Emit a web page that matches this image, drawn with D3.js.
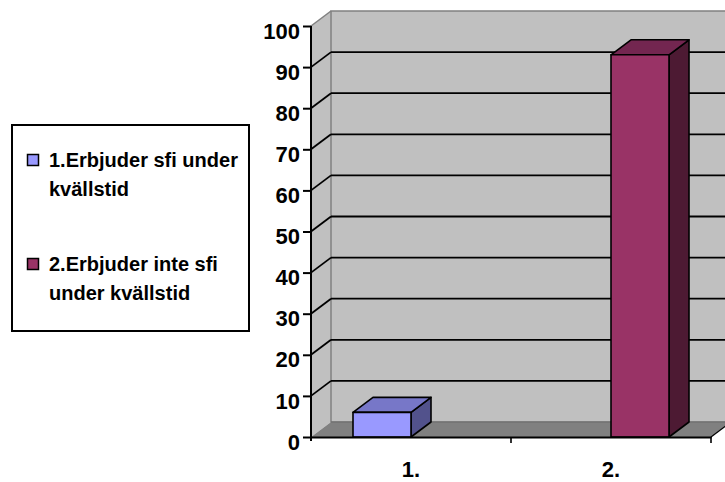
<!DOCTYPE html>
<html>
<head>
<meta charset="utf-8">
<script src="https://cdn.jsdelivr.net/npm/d3@7"></script>
<style>
  body { margin: 0; background: #fff; }
  svg { display: block; font-family: "Liberation Sans", Arial, sans-serif; font-weight: bold; }
</style>
</head>
<body>
<svg width="725" height="482"></svg>
<script>
// data
var categories = ["1.", "2."];
var seriesNames = ["1.Erbjuder sfi under kvällstid", "2.Erbjuder inte sfi under kvällstid"];
var legendLines = [["1.Erbjuder sfi under", "kvällstid"], ["2.Erbjuder inte sfi", "under kvällstid"]];
var series1 = [6, 0];
var series2 = [0, 93];
var yTicks = [0, 10, 20, 30, 40, 50, 60, 70, 80, 90, 100];

var seriesColors = [
  { front: "#9999ff", top: "#7777c8", side: "#52528c" },
  { front: "#993366", top: "#732650", side: "#4d1a33" }
];

(function () {
  var svg = d3.select("svg");
  var dx = 20, dy = -15;   // depth of the 3d box

  var y = d3.scaleLinear().domain([0, 100]).range([437, 26]);
  var x0 = d3.scaleBand().domain(categories).range([311, 711]);
  var x1 = d3.scaleBand().domain(seriesNames).range([0, x0.bandwidth()]).paddingOuter(0.724);

  var left = x0.range()[0], right = x0.range()[1];
  var bottom = y(0), top = y(100);

  // walls
  svg.append("polygon")
    .attr("points", [[left, bottom], [left, top], [left + dx, top + dy], [left + dx, bottom + dy]].join(" "))
    .attr("fill", "#c0c0c0");
  svg.append("rect")
    .attr("x", left + dx).attr("y", top + dy)
    .attr("width", right - left).attr("height", bottom - top)
    .attr("fill", "#c0c0c0").attr("stroke", "#808080").attr("stroke-width", 1.5);
  svg.append("line")
    .attr("x1", left).attr("y1", top).attr("x2", left + dx).attr("y2", top + dy)
    .attr("stroke", "#808080").attr("stroke-width", 1.5);

  // floor
  svg.append("polygon")
    .attr("points", [[left, bottom], [right, bottom], [right + dx, bottom + dy], [left + dx, bottom + dy]].join(" "))
    .attr("fill", "#808080");
  svg.append("line")
    .attr("x1", left + dx).attr("y1", bottom + dy).attr("x2", right + dx).attr("y2", bottom + dy)
    .attr("stroke", "#6a6a6a").attr("stroke-width", 1);
  svg.append("line")
    .attr("x1", right).attr("y1", bottom).attr("x2", right + dx).attr("y2", bottom + dy)
    .attr("stroke", "#000").attr("stroke-width", 1.2);

  // gridlines on back and side wall
  var grid = svg.append("g").attr("stroke", "#000").attr("stroke-width", 1.8);
  grid.selectAll("line.back")
    .data(yTicks.filter(function (d) { return d > 0 && d < 100; }))
    .enter().append("line").attr("class", "back")
    .attr("x1", left + dx).attr("x2", right + dx)
    .attr("y1", function (d) { return y(d) + dy; })
    .attr("y2", function (d) { return y(d) + dy; });
  grid.selectAll("line.side")
    .data(yTicks.filter(function (d) { return d > 0 && d < 100; }))
    .enter().append("line").attr("class", "side")
    .attr("x1", left).attr("x2", left + dx)
    .attr("y1", function (d) { return y(d); })
    .attr("y2", function (d) { return y(d) + dy; });

  // bars
  var bars = [];
  categories.forEach(function (c, i) {
    [series1, series2].forEach(function (s, j) {
      if (s[i] > 0) bars.push({ cat: c, ser: seriesNames[j], value: s[i], color: seriesColors[j] });
    });
  });

  var g = svg.selectAll("g.bar").data(bars).enter().append("g").attr("class", "bar")
    .attr("stroke", "#000").attr("stroke-width", 1.6).attr("stroke-linejoin", "round");
  g.each(function (d) {
    var xa = x0(d.cat) + x1(d.ser), xb = xa + x1.bandwidth();
    var yt = y(d.value), yb = y(0);
    var el = d3.select(this);
    el.append("polygon")
      .attr("points", [[xb, yb], [xb + dx, yb + dy], [xb + dx, yt + dy], [xb, yt]].join(" "))
      .attr("fill", d.color.side);
    el.append("polygon")
      .attr("points", [[xa, yt], [xb, yt], [xb + dx, yt + dy], [xa + dx, yt + dy]].join(" "))
      .attr("fill", d.color.top);
    el.append("rect")
      .attr("x", xa).attr("y", yt).attr("width", xb - xa).attr("height", yb - yt)
      .attr("fill", d.color.front);
  });

  // value axis
  var yAxis = svg.append("g")
    .attr("transform", "translate(" + left + ",0)")
    .call(d3.axisLeft(y).tickValues(yTicks).tickSize(8).tickPadding(3).tickSizeOuter(0));
  yAxis.select(".domain").attr("stroke", "#000").attr("stroke-width", 2)
    .attr("d", "M0," + top + "V" + (bottom + 4));
  yAxis.selectAll(".tick line").attr("stroke", "#000").attr("stroke-width", 2);
  yAxis.selectAll(".tick text")
    .attr("dy", "0.55em")
    .attr("fill", "#000")
    .style("font-size", "22px").style("font-family", "'Liberation Sans', Arial, sans-serif").style("font-weight", "bold");

  // category axis
  var xAxis = svg.append("g")
    .attr("transform", "translate(0," + bottom + ")")
    .call(d3.axisBottom(x0).tickSize(0).tickPadding(24).tickSizeOuter(0));
  xAxis.select(".domain").attr("stroke", "#000").attr("stroke-width", 2);
  xAxis.selectAll(".tick text")
    .attr("fill", "#000")
    .style("font-size", "22px").style("font-family", "'Liberation Sans', Arial, sans-serif").style("font-weight", "bold");
  xAxis.selectAll("line.bound")
    .data(x0.domain().map(function (c) { return x0(c) + x0.bandwidth(); }))
    .enter().append("line").attr("class", "bound")
    .attr("x1", function (d) { return d; }).attr("x2", function (d) { return d; })
    .attr("y1", 0).attr("y2", 6)
    .attr("stroke", "#000").attr("stroke-width", 1.6);

  // legend
  var legend = svg.append("g");
  legend.append("rect")
    .attr("x", 12).attr("y", 125).attr("width", 237).attr("height", 206)
    .attr("fill", "#fff").attr("stroke", "#000").attr("stroke-width", 2);
  var item = legend.selectAll("g.item").data(legendLines).enter().append("g")
    .attr("class", "item")
    .attr("transform", function (d, i) { return "translate(0," + (i * 104) + ")"; });
  item.append("rect")
    .attr("x", 27.5).attr("y", 154.5).attr("width", 11).attr("height", 11)
    .attr("fill", function (d, i) { return seriesColors[i].front; })
    .attr("stroke", "#000").attr("stroke-width", 1.5);
  item.append("text")
    .attr("x", 49).attr("y", 167)
    .style("font-size", "20px").attr("fill", "#000")
    .selectAll("tspan").data(function (d) { return d; }).enter().append("tspan")
    .attr("x", 49).attr("dy", function (d, i) { return i ? 29 : 0; })
    .text(function (d) { return d; });
})();
</script>
</body>
</html>
